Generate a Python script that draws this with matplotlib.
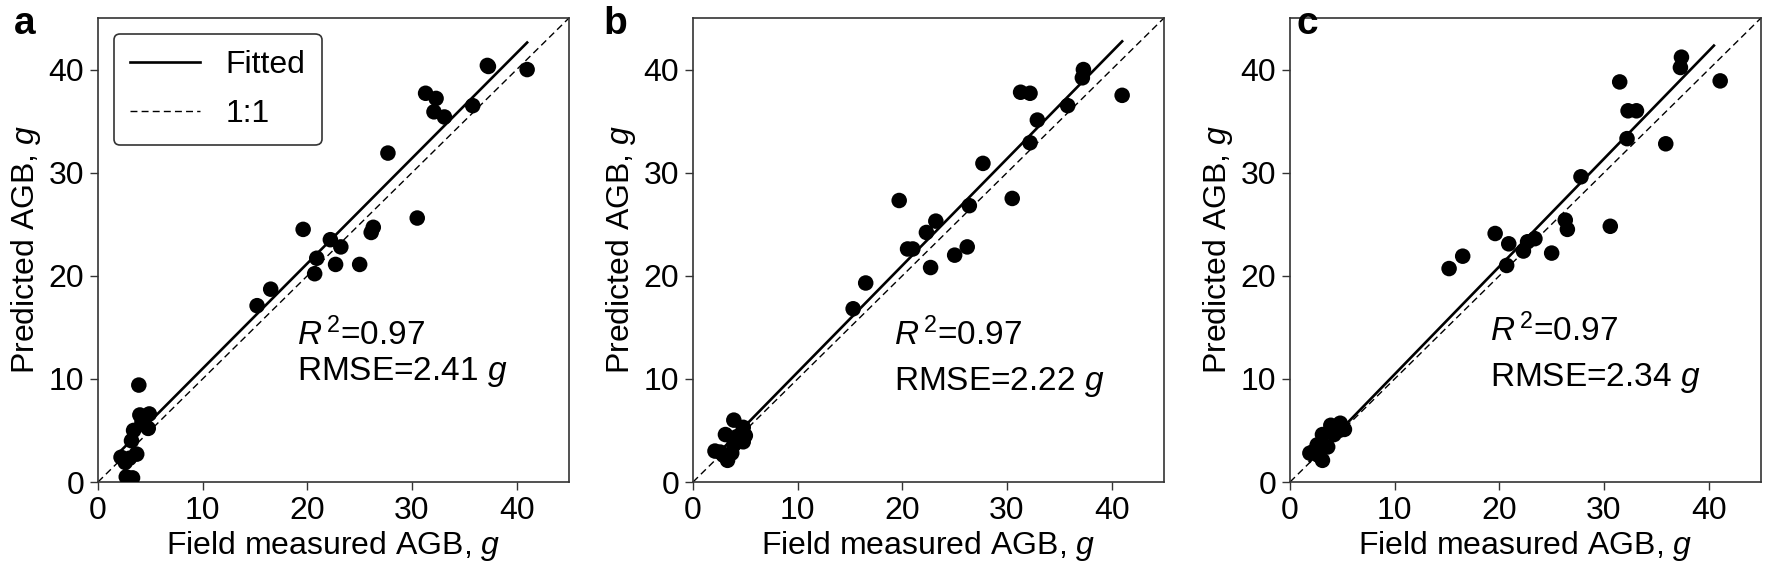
"""
Predicted vs field measured AGB, three models (a, b, c).

Output: out.png
"""

import matplotlib
matplotlib.use("Agg")
import matplotlib.pyplot as plt
import numpy as np

plt.rcParams["font.family"] = ["Liberation Sans", "DejaVu Sans"]
plt.rcParams["mathtext.fontset"] = "custom"
plt.rcParams["mathtext.rm"] = "Liberation Sans"
plt.rcParams["mathtext.it"] = "Liberation Sans:italic"

# panel a
field_a = [2.2, 2.6, 3.0, 3.7, 2.7, 3.3, 3.2, 3.4, 4.8, 4.0, 4.9, 3.9, 4.2,
           15.2, 16.5, 19.6, 20.7, 20.9, 22.2, 22.7, 23.2, 25.0, 26.1, 26.3,
           27.7, 30.5, 31.3, 32.1, 32.3, 33.1, 35.8, 37.2, 37.3, 41.0]
pred_a = [2.4, 1.9, 2.3, 2.7, 0.5, 0.4, 4.0, 5.0, 5.2, 6.5, 6.6, 9.4, 5.8,
          17.1, 18.7, 24.5, 20.2, 21.7, 23.5, 21.1, 22.8, 21.1, 24.2, 24.7,
          31.9, 25.6, 37.7, 35.9, 37.2, 35.4, 36.5, 40.4, 40.3, 40.0]

# panel b
field_b = [3.9, 4.8, 3.1, 4.2, 5.0, 4.8, 2.1, 2.9, 3.3, 3.7, 3.9, 2.6,
           15.3, 16.5, 19.7, 20.5, 21.0, 22.3, 22.7, 23.2, 25.0, 26.2, 26.4,
           27.7, 30.5, 31.3, 32.2, 32.2, 32.9, 35.8, 37.2, 37.3, 41.0]
pred_b = [6.0, 5.3, 4.6, 4.4, 4.5, 3.9, 3.0, 2.6, 2.1, 2.8, 3.6, 2.9,
          16.8, 19.3, 27.3, 22.6, 22.6, 24.2, 20.8, 25.3, 22.0, 22.8, 26.8,
          30.9, 27.5, 37.8, 37.7, 32.9, 35.1, 36.5, 39.2, 40.0, 37.5]

# panel c
field_c = [3.9, 4.8, 5.2, 3.1, 4.2, 2.6, 1.9, 2.7, 3.1, 3.6, 4.7, 2.3,
           15.2, 16.5, 19.6, 20.7, 20.9, 22.3, 22.7, 23.4, 25.0, 26.3, 26.5,
           27.8, 30.6, 31.5, 32.2, 32.3, 33.1, 35.9, 37.3, 37.4, 41.1]
pred_c = [5.5, 5.7, 5.1, 4.6, 4.6, 3.6, 2.8, 2.6, 2.1, 3.4, 5.0, 3.0,
          20.7, 21.9, 24.1, 21.0, 23.1, 22.4, 23.3, 23.6, 22.2, 25.4, 24.5,
          29.6, 24.8, 38.8, 33.3, 36.0, 36.0, 32.8, 40.2, 41.2, 38.9]

# fitted lines: slope, intercept, x range
fit_a = (1.02, 0.8, 2.2, 41.0)
fit_b = (1.035, 0.3, 2.1, 41.0)
fit_c = (1.045, 0.0, 1.9, 40.5)

r2_text = ["$R^{\\,2}$=0.97"] * 3
rmse_text = ["RMSE=2.41 $g$", "RMSE=2.22 $g$", "RMSE=2.34 $g$"]
letters = ["a", "b", "c"]

W, H = 1772, 575
fig = plt.figure(figsize=(W / 100, H / 100), dpi=100)

lefts = [98, 693, 1290]
letter_x = [14, 603, 1296]
panels = [(field_a, pred_a, fit_a, (19.0, 13.3, 9.9)),
          (field_b, pred_b, fit_b, (19.2, 13.3, 8.9)),
          (field_c, pred_c, fit_c, (19.1, 13.7, 9.3))]

FS = 23
for i, (fx, py, fit, txt) in enumerate(panels):
    ax = fig.add_axes([lefts[i] / W, (H - 482) / H, 471 / W, 464 / H])
    slope, icpt, x0, x1 = fit
    xs = np.array([x0, x1])
    ax.plot(xs, slope * xs + icpt, color="black", lw=1.9, label="Fitted", zorder=2)
    ax.plot([0, 45], [0, 45], color="black", lw=1.0, ls=(0, (5, 3)), label="1:1", zorder=2)
    ax.scatter(fx, py, s=125, color="black", edgecolors="none", zorder=3)

    ax.set_xlim(0, 45)
    ax.set_ylim(0, 45)
    ax.set_xticks([0, 10, 20, 30, 40])
    ax.set_yticks([0, 10, 20, 30, 40])
    ax.tick_params(labelsize=FS, length=6, width=1, pad=4, color="#333333")
    for s in ax.spines.values():
        s.set_color("#333333")
        s.set_linewidth(1.2)
    ax.set_xlabel("Field measured AGB, $g$", fontsize=FS, labelpad=2)
    ax.set_ylabel("Predicted AGB, $g$", fontsize=FS, labelpad=4)

    ax.text(txt[0], txt[1], r2_text[i], fontsize=24, va="baseline")
    ax.text(txt[0], txt[2], rmse_text[i], fontsize=24, va="baseline")

    if i == 0:
        leg = ax.legend(loc="upper left", fontsize=FS, handlelength=2.2,
                        handletextpad=0.8, borderpad=0.5, labelspacing=0.6,
                        fancybox=True, borderaxespad=0.5)
        leg.get_frame().set_edgecolor("#333333")
        leg.get_frame().set_linewidth(1.2)
        leg.get_frame().set_alpha(1)

    fig.text(letter_x[i] / W, 1 - 6 / H, letters[i], fontsize=28,
             fontweight="bold", ha="left", va="top")

fig.savefig("out.png", dpi=100)
